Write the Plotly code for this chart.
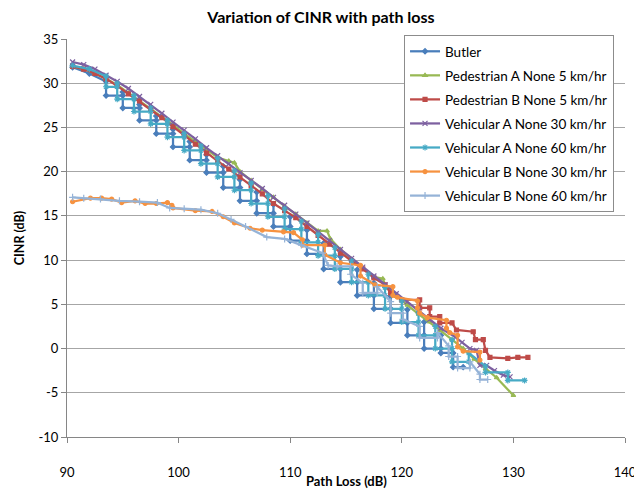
import plotly.graph_objects as go

# ---------------- data ----------------
butler_x = [90.5, 92, 93.5, 93.5, 95, 95, 95, 96.5, 96.5, 96.5, 98, 98, 98, 99.5, 99.5, 99.5,
            101, 101, 101, 102.5, 102.5, 102.5, 104, 104, 104, 105.5, 105.5, 105.5, 107, 107, 107,
            108.5, 108.5, 108.5, 110, 110, 110, 111.5, 111.5, 111.5, 113, 113, 113, 114.5, 114.5,
            114.5, 116, 116, 116, 117.5, 117.5, 117.5, 119, 119, 119, 120.5, 120.5, 120.5, 122, 122,
            122, 123.5, 123.5, 123.5, 124.6, 124.6, 125.5]
butler_y = [31.8, 31.1, 30.2, 28.6, 28.6, 29.0, 27.2, 27.2, 27.6, 25.8, 25.8, 26.3, 24.3, 24.3, 24.8, 22.8,
            22.8, 23.4, 21.3, 21.3, 21.9, 19.9, 19.9, 20.6, 18.2, 18.2, 19.1, 16.7, 16.7, 17.7, 15.3,
            15.3, 16.3, 13.8, 13.8, 14.9, 12.2, 12.2, 13.4, 10.7, 10.7, 11.9, 9.0, 9.0, 10.4,
            7.5, 7.5, 8.9, 6.0, 6.0, 7.4, 4.5, 4.5, 5.9, 2.9, 2.9, 4.4, 1.5, 1.5, 3.0,
            0.0, 0.0, 1.5, -0.5, -0.5, -2.1, -2.1]

ped_a_x = [90.5, 91.5, 92.5, 93.5, 94.5, 95.5, 96.5, 97.5, 98.5, 99.5, 100.5, 101.5, 102.5, 103.5,
           104.5, 105, 105.5, 106.5, 107.5, 108.5, 109.5, 110.5, 111.5, 112.5, 113.3, 113.6, 114.5,
           115.5, 116.5, 117.5, 118.3, 118.6, 119.5, 120.5, 121.5, 122.5, 123.5, 124.5, 125.5,
           126.5, 127.5, 128.5, 130]
ped_a_y = [31.9, 31.6, 31.1, 30.5, 29.8, 28.9, 28.1, 27.2, 26.2, 25.3, 24.3, 23.4, 22.5, 21.6,
           21.2, 21.0, 20.0, 19.0, 18.0, 17.1, 16.1, 15.2, 14.2, 13.3, 13.3, 12.4, 11.2,
           10.1, 9.1, 8.1, 7.9, 6.9, 5.9, 4.9, 3.9, 3.0, 2.0, 1.0, 0.0,
           -1.2, -2.3, -3.3, -5.3]

ped_b_x = [90.5, 91.5, 92.5, 93.5, 94.5, 95.5, 96.5, 97.5, 98.5, 99.5, 100.5, 101.5, 102.5, 103.5,
           104.5, 105.5, 106.5, 107.5, 108.5, 109.5, 110.5, 111.5, 112.5, 113.5, 114.5, 115.5,
           116.5, 117.5, 118.5, 119, 120, 121.6, 121.6, 122.5, 122.5, 123.4, 123.4, 124.5, 124.9,
           126.4, 126.6, 127.3, 127.5, 127.9, 129.5, 130.4, 131.3]
ped_b_y = [31.9, 31.6, 31.1, 30.5, 29.7, 28.8, 28.0, 27.1, 26.1, 25.1, 24.1, 23.1, 22.1, 21.2,
           20.3, 19.4, 18.4, 17.5, 16.4, 15.6, 14.8, 13.8, 12.8, 11.8, 10.8, 9.9,
           9.0, 8.0, 7.2, 6.3, 5.5, 5.5, 4.6, 4.6, 3.6, 3.6, 2.9, 2.9, 2.1,
           1.9, 1.0, 1.0, -0.2, -1.0, -1.1, -1.0, -1.0]

veh_a30_x = [90.5, 91.5, 92.5, 93.5, 94.5, 95.5, 96.5, 97.5, 98.5, 99.5, 100.5, 101.5, 102.5, 103.5,
             104.5, 105.5, 106.5, 107.5, 108.5, 109.5, 110.5, 111.5, 112.5, 113.5, 114.5, 115.5,
             116.5, 117.5, 118.5, 119.5, 120.5, 121.5, 122.5, 123.5, 124.8, 125.4, 126.1, 126.7,
             127.0, 127.6, 128.3, 129.1, 129.7]
veh_a30_y = [32.4, 32.1, 31.6, 30.9, 30.2, 29.4, 28.5, 27.6, 26.6, 25.6, 24.7, 23.7, 22.7, 21.8,
             20.9, 19.9, 19.0, 18.1, 17.1, 16.2, 15.2, 14.2, 13.2, 12.2, 11.2, 10.2,
             9.2, 8.2, 7.2, 6.2, 5.3, 4.3, 3.3, 2.3, 1.3, 0.7, 0.0, -0.2,
             -1.9, -1.9, -2.5, -3.0, -3.2]

veh_a60_x = [90.5, 92, 93.5, 93.5, 94.5, 94.5, 94.5, 96, 96, 96, 97.5, 97.5, 97.5, 99, 99, 99,
             100.5, 100.5, 100.5, 102, 102, 102, 103.5, 103.5, 103.5, 105, 105, 105, 106.5, 106.5,
             106.5, 108, 108, 108, 109.5, 109.5, 109.5, 111, 111, 111, 112.5, 112.5, 112.5, 114,
             114, 114, 115.5, 115.5, 115.5, 117, 117, 117, 118.5, 118.5, 118.5, 120, 120, 120,
             121.5, 121.5, 121.5, 123, 123, 123, 124.5, 124.5, 124.5, 126, 126, 127.5, 127.5,
             129.5, 129.5, 131]
veh_a60_y = [32.0, 31.6, 30.8, 29.6, 29.6, 30.0, 28.2, 28.2, 28.6, 26.8, 26.8, 27.2, 25.4, 25.4, 25.8, 23.9,
             23.9, 24.3, 22.4, 22.4, 22.9, 20.9, 20.9, 21.5, 19.4, 19.4, 20.1, 17.9, 17.9, 18.7,
             16.4, 16.4, 17.3, 14.9, 14.9, 15.8, 13.5, 13.5, 14.4, 12.0, 12.0, 12.9, 10.5, 10.5,
             11.4, 9.0, 9.0, 9.9, 7.5, 7.5, 8.4, 6.0, 6.0, 6.9, 4.5, 4.5, 5.4, 3.0,
             3.0, 4.0, 1.5, 1.5, 2.5, 0.0, 0.0, 1.0, -1.5, -1.5, -0.5, -2.0, -2.7,
             -2.7, -3.6, -3.6]

veh_b30_x = [90.5, 92.1, 93.1, 94, 94.9, 96.1, 97, 98, 99, 99.4, 99.5, 101.5, 103, 104, 105, 106.4,
             107.5, 109.4, 110.3, 111.1, 111.1, 113.1, 113.1, 114.5, 116.3, 116.3, 117.6, 119.2,
             119.2, 119.6, 121.4, 121.4, 121.6, 122.3, 124, 124, 124.3, 125, 125, 125.5, 127, 127]
veh_b30_y = [16.6, 17.0, 17.0, 16.9, 16.5, 16.7, 16.4, 16.4, 16.5, 16.2, 15.9, 15.6, 15.5, 14.9, 14.2, 13.6,
             13.4, 13.2, 13.1, 12.3, 11.7, 11.7, 10.6, 9.7, 9.4, 8.2, 7.2, 7.0,
             6.0, 5.8, 5.4, 4.6, 4.0, 3.5, 3.2, 2.3, 1.8, 1.5, 0.2, -0.3, -0.4, -1.3]

veh_b60_x = [90.5, 91.5, 93, 94.7, 96.5, 98.1, 99.2, 100.5, 102, 103.5, 104.7, 106, 107.9, 109.5, 111,
             112.9, 113.4, 114.2, 115.4, 115.4, 116.5, 116.5, 117.8, 117.8, 119, 119, 120.1, 120.1,
             121.6, 121.6, 123.2, 123.2, 124.2, 124.2, 125, 125, 126.1, 126.1, 127, 127, 127.7]
veh_b60_y = [17.1, 17.0, 16.9, 16.7, 16.6, 16.5, 15.9, 15.8, 15.7, 15.3, 14.6, 13.8, 12.6, 12.4, 11.7,
             10.8, 9.4, 9.3, 9.3, 8.4, 7.4, 6.3, 6.3, 7.0, 5.3, 4.0, 4.0, 3.3,
             2.5, 1.2, 1.2, 1.8, 0.3, -0.9, -0.9, -2.2, -2.2, -1.5, -2.9, -3.5, -3.5]

series_names = ["Butler", "Pedestrian A None 5 km/hr", "Pedestrian B None 5 km/hr",
                "Vehicular A None 30 km/hr", "Vehicular A None 60 km/hr",
                "Vehicular B None 30 km/hr", "Vehicular B None 60 km/hr"]
series_x = [butler_x, ped_a_x, ped_b_x, veh_a30_x, veh_a60_x, veh_b30_x, veh_b60_x]
series_y = [butler_y, ped_a_y, ped_b_y, veh_a30_y, veh_a60_y, veh_b30_y, veh_b60_y]

x_ticks = [90, 100, 110, 120, 130, 140]
y_ticks = [-10, -5, 0, 5, 10, 15, 20, 25, 30, 35]

# ---------------- style ----------------
colors = ["#4A7EBB", "#98B954", "#BE4B48", "#7D60A0", "#46AAC5", "#F69240", "#95B3D7"]
symbols = ["diamond", "triangle-up", "square", "x-thin-open", "asterisk-open", "circle", "cross-thin-open"]
msizes = [4, 4, 4, 5, 5, 4, 5]
FONT = "Lato"

fig = go.Figure()
for i, (name, xs, ys) in enumerate(zip(series_names, series_x, series_y)):
    fig.add_trace(go.Scatter(
        x=xs, y=ys, name=name, mode="lines+markers",
        legendgroup=f"g{i}",
        line=dict(color=colors[i], width=2.25),
        marker=dict(symbol=symbols[i], size=msizes[i], color=colors[i],
                    line=dict(color=colors[i], width=1.2)),
    ))

fig.update_layout(
    width=642, height=496,
    margin=dict(l=59, r=25, t=31, b=67, autoexpand=False),
    paper_bgcolor="white", plot_bgcolor="white",
    font=dict(family=FONT, size=13, color="#000000"),
    title=dict(text="<b>Variation of CINR with path loss</b>", x=0.4875, xanchor="center",
               y=0.981, yanchor="middle", font=dict(family=FONT, size=16)),
    showlegend=True,
    legend=dict(x=0.604, y=1.01, xanchor="left", yanchor="top",
                bgcolor="white", bordercolor="#8c8c8c", borderwidth=1,
                tracegroupgap=3.5, font=dict(family=FONT, size=13.5),
                traceorder="grouped", itemwidth=30),
    annotations=[dict(text="<b>Path Loss (dB)</b>", xref="paper", yref="paper",
                      x=0.5, y=-0.1106, xanchor="center", yanchor="middle",
                      showarrow=False, font=dict(family=FONT, size=13))],
)
fig.update_xaxes(range=[90, 140], tickvals=x_ticks, ticktext=[str(v) for v in x_ticks],
                 showgrid=False, zeroline=False, showline=True, linecolor="#868686", linewidth=1,
                 ticks="outside", ticklen=5, tickcolor="#868686", ticklabelstandoff=18,
                 automargin=False)
fig.update_yaxes(range=[-10, 35], tickvals=y_ticks, ticktext=[str(v) for v in y_ticks],
                 showgrid=True, gridcolor="#a6a6a6", gridwidth=1, zeroline=False,
                 showline=True, linecolor="#868686", linewidth=1,
                 ticks="outside", ticklen=5, tickcolor="#868686", automargin=False,
                 title=dict(text="<b>CINR (dB)</b>", font=dict(family=FONT, size=12.5), standoff=11))

fig.write_html("out.html")
